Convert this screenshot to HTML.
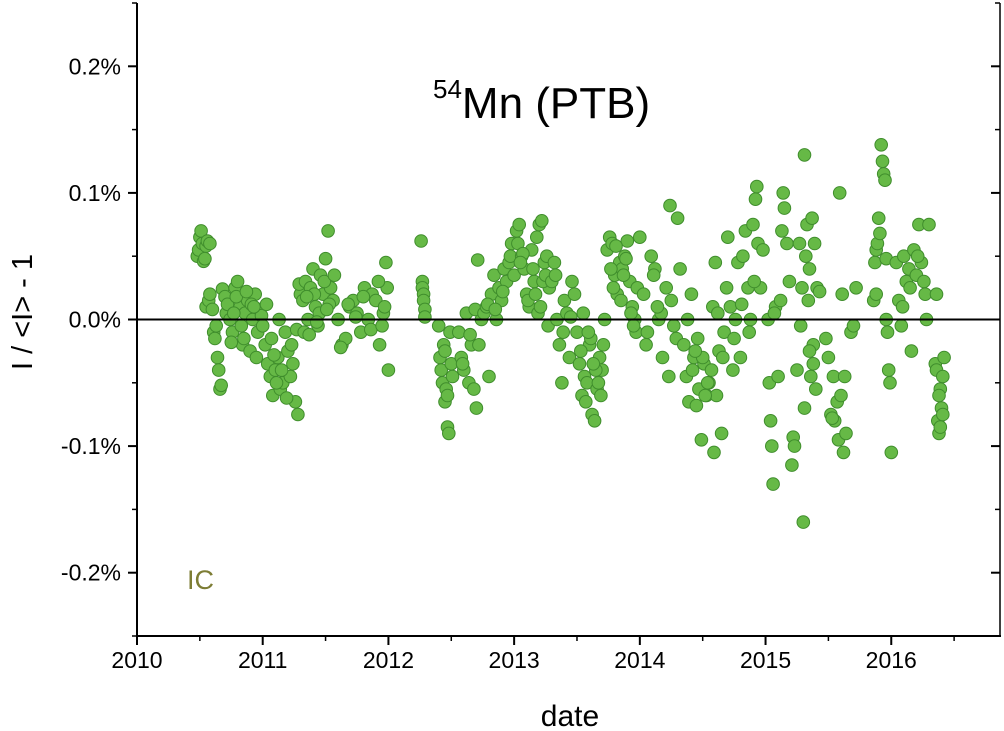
<!DOCTYPE html>
<html><head><meta charset="utf-8"><style>
html,body{margin:0;padding:0;background:#fff;}
svg{display:block;font-family:"Liberation Sans",sans-serif;}
</style></head><body>
<svg id="chart" width="1004" height="731" viewBox="0 0 1004 731" xmlns="http://www.w3.org/2000/svg">
<rect x="0" y="0" width="1004" height="731" fill="#fff"/>
<g id="points"></g>
<g id="axes"></g>
<text x="433" y="118" font-size="44"><tspan font-size="26" dy="-20">54</tspan><tspan dy="20">Mn (PTB)</tspan></text>
<text x="187" y="589" font-size="27" fill="#7d7d35">IC</text>
<text transform="translate(32,312) rotate(-90)" text-anchor="middle" font-size="29">I / &lt;I&gt; - 1</text>
<text x="570" y="726" text-anchor="middle" font-size="30">date</text>
</svg>
<script>
const xTicks = [2010, 2011, 2012, 2013, 2014, 2015, 2016];
const xTickLabels = ["2010","2011","2012","2013","2014","2015","2016"];
const yTicks = [0.2, 0.1, 0.0, -0.1, -0.2];
const yTickLabels = ["0.2%","0.1%","0.0%","-0.1%","-0.2%"];
const dates = [
2010.48,2010.49,2010.50,2010.51,2010.52,2010.53,2010.55,2010.56,2010.58,2010.54,
2010.55,2010.57,2010.58,2010.60,2010.61,2010.62,2010.63,2010.64,2010.65,2010.66,2010.67,2010.68,2010.70,2010.71,
2010.72,2010.74,2010.76,2010.78,2010.80,2010.82,2010.84,2010.86,2010.88,2010.90,2010.92,2010.94,2010.96,2010.98,2010.75,2010.79,2010.83,2010.87,2010.91,2010.95,2010.99,2010.77,2010.85,2010.93,
2011.00,2011.02,2011.04,2011.06,2011.08,2011.10,2011.12,2011.14,2011.16,2011.18,2011.20,2011.22,2011.24,2011.26,2011.28,2011.03,2011.07,2011.11,2011.15,2011.19,2011.23,2011.27,2011.30,2011.29,2011.13,2011.09,
2011.32,2011.34,2011.36,2011.38,2011.40,2011.42,2011.44,2011.46,2011.48,2011.50,2011.52,2011.54,2011.56,2011.33,2011.37,2011.41,2011.45,2011.49,2011.53,2011.35,2011.43,2011.51,2011.57,
2011.60,2011.63,2011.66,2011.69,2011.72,2011.75,2011.78,2011.81,2011.84,2011.87,2011.90,2011.93,2011.96,2011.98,2011.99,2012.00,2011.62,2011.68,2011.74,2011.80,2011.86,2011.92,2011.97,2011.95,
2012.26,2012.27,2012.27,2012.28,2012.28,2012.29,2012.29,
2012.40,2012.41,2012.42,2012.43,2012.44,2012.45,2012.46,2012.47,2012.48,2012.49,2012.50,2012.51,2012.45,2012.47,
2012.56,2012.58,2012.60,2012.62,2012.64,2012.66,2012.68,2012.70,2012.71,2012.72,2012.74,2012.59,2012.65,2012.69,
2012.76,2012.78,2012.80,2012.82,2012.84,2012.86,2012.88,2012.90,2012.92,2012.94,2012.96,2012.98,2012.79,2012.85,2012.91,2012.97,
2013.00,2013.02,2013.04,2013.06,2013.08,2013.10,2013.12,2013.14,2013.16,2013.18,2013.20,2013.22,2013.24,2013.26,2013.28,2013.03,2013.07,2013.11,2013.15,2013.19,2013.23,2013.27,2013.05,2013.17,2013.25,2013.21,
2013.30,2013.32,2013.34,2013.36,2013.38,2013.40,2013.42,2013.44,2013.46,2013.48,2013.33,2013.39,2013.45,
2013.50,2013.52,2013.54,2013.56,2013.58,2013.60,2013.62,2013.64,2013.66,2013.68,2013.70,2013.72,2013.53,2013.57,2013.61,2013.65,2013.69,2013.55,2013.63,2013.59,2013.67,2013.71,
2013.74,2013.76,2013.78,2013.80,2013.82,2013.84,2013.86,2013.88,2013.90,2013.92,2013.94,2013.96,2013.98,2013.77,2013.81,2013.85,2013.89,2013.93,2013.97,2013.79,2013.87,2013.95,
2014.00,2014.03,2014.06,2014.09,2014.12,2014.15,2014.18,2014.21,2014.24,2014.25,2014.27,2014.30,2014.32,2014.05,2014.11,2014.17,2014.23,2014.29,2014.14,
2014.35,2014.37,2014.39,2014.41,2014.43,2014.45,2014.47,2014.49,2014.51,2014.53,2014.55,2014.57,2014.59,2014.61,2014.63,2014.65,2014.67,2014.69,2014.38,2014.42,2014.46,2014.50,2014.54,2014.58,2014.62,2014.66,2014.44,2014.52,2014.60,
2014.70,2014.72,2014.74,2014.76,2014.78,2014.80,2014.82,2014.84,2014.86,2014.88,2014.90,2014.92,2014.93,2014.94,2014.96,2014.98,2014.75,2014.81,2014.87,2014.91,
2015.02,2015.03,2015.04,2015.05,2015.06,2015.08,2015.10,2015.12,2015.14,2015.15,2015.17,2015.19,2015.21,2015.22,2015.23,2015.07,2015.13,
2015.25,2015.27,2015.28,2015.29,2015.30,2015.31,2015.32,2015.33,2015.34,2015.35,2015.36,2015.37,2015.38,2015.39,2015.40,2015.41,2015.43,2015.31,2015.35,2015.38,
2015.48,2015.50,2015.52,2015.54,2015.55,2015.57,2015.58,2015.59,2015.60,2015.61,2015.62,2015.63,2015.64,2015.53,
2015.68,2015.70,2015.72,
2015.86,2015.87,2015.88,2015.89,2015.90,2015.91,2015.92,2015.93,2015.94,2015.95,2015.96,2015.97,2015.98,2015.99,2016.00,2015.88,2015.96,
2016.04,2016.06,2016.08,2016.10,2016.12,2016.14,2016.16,2016.18,2016.20,2016.22,2016.24,2016.26,2016.28,2016.30,2016.15,2016.21,2016.27,2016.09,
2016.35,2016.36,2016.37,2016.38,2016.39,2016.40,2016.41,2016.42,2016.36,2016.39,2016.41,2016.38
];
const vals = [
0.050,0.055,0.065,0.070,0.060,0.046,0.058,0.062,0.060,0.048,
0.010,0.015,0.020,0.008,-0.010,-0.015,-0.005,-0.030,-0.040,-0.055,-0.052,0.024,0.018,0.005,
0.012,0.000,-0.010,0.025,0.030,0.010,-0.020,0.005,0.015,-0.025,0.000,0.020,-0.010,0.008,-0.018,0.018,-0.005,0.022,0.012,-0.030,0.003,0.005,-0.015,0.010,
-0.005,-0.020,-0.035,-0.045,-0.060,-0.040,-0.030,-0.055,-0.050,-0.010,-0.025,-0.045,-0.035,-0.065,-0.075,0.012,-0.015,-0.050,-0.040,-0.062,-0.020,-0.008,0.020,0.028,0.000,-0.028,
0.015,0.030,0.000,0.025,0.040,0.010,-0.005,0.035,0.020,0.048,0.070,0.025,0.015,-0.010,-0.012,0.020,0.005,0.030,0.012,0.018,-0.002,0.008,0.035,
0.000,-0.020,-0.015,0.010,0.015,0.005,-0.010,0.025,0.000,0.020,0.015,-0.020,0.005,0.045,0.025,-0.040,-0.022,0.012,0.002,0.018,-0.008,0.030,0.010,-0.005,
0.062,0.030,0.025,0.020,0.015,0.008,0.002,
-0.005,-0.030,-0.040,-0.050,-0.020,-0.065,-0.055,-0.085,-0.090,-0.010,-0.035,-0.045,-0.025,-0.060,
-0.010,-0.030,-0.040,0.005,-0.050,-0.020,-0.055,-0.070,0.047,-0.020,0.000,-0.035,-0.012,0.008,
0.005,0.010,-0.045,0.020,0.035,0.000,0.025,0.015,0.040,0.030,0.045,0.060,0.012,0.008,0.022,0.050,
0.035,0.070,0.075,0.050,0.040,0.020,0.010,0.055,0.030,0.065,0.075,0.078,0.045,0.050,0.025,0.060,0.052,0.015,0.040,0.005,0.030,-0.005,0.045,0.020,0.035,0.010,
0.030,0.045,0.000,-0.020,-0.050,0.015,0.005,-0.030,0.030,0.020,0.035,-0.010,0.002,
-0.010,-0.035,-0.060,-0.045,-0.050,-0.020,-0.075,-0.080,-0.055,-0.030,-0.040,0.000,-0.025,-0.065,-0.015,-0.040,-0.060,0.005,-0.035,-0.010,-0.050,-0.020,
0.055,0.065,0.060,0.035,0.020,0.045,0.040,0.050,0.062,0.030,0.010,0.000,0.025,0.040,0.058,0.015,0.048,0.005,-0.010,0.025,0.035,-0.005,
0.065,0.020,-0.010,0.050,0.040,0.000,-0.030,0.025,0.090,0.015,-0.005,0.080,0.040,-0.020,0.035,0.005,-0.045,-0.015,0.010,
-0.020,-0.045,-0.065,0.020,-0.030,-0.068,-0.055,-0.095,-0.035,-0.060,-0.050,-0.040,-0.105,-0.060,-0.025,-0.090,-0.010,0.025,0.000,-0.040,-0.015,-0.030,-0.050,0.010,0.005,-0.030,-0.025,-0.060,0.045,
0.065,0.010,-0.040,0.000,0.045,-0.030,0.050,0.070,0.025,0.000,0.075,0.095,0.105,0.060,0.025,0.055,-0.015,0.012,-0.010,0.030,
0.000,-0.050,-0.080,-0.100,-0.130,0.010,-0.045,0.015,0.100,0.088,0.060,0.030,-0.115,-0.093,-0.100,0.005,0.070,
-0.040,0.060,-0.005,0.025,-0.160,0.130,0.050,0.075,0.015,0.040,-0.045,0.080,-0.020,0.060,-0.055,0.025,0.022,-0.070,-0.025,-0.035,
-0.015,-0.030,-0.075,-0.045,-0.080,-0.065,-0.095,0.100,-0.060,0.020,-0.105,-0.045,-0.090,-0.078,
-0.010,-0.005,0.025,
0.015,0.045,0.055,0.060,0.080,0.068,0.138,0.125,0.115,0.110,0.000,-0.010,-0.040,-0.050,-0.105,0.020,0.048,
0.045,0.015,-0.005,0.050,0.030,0.040,-0.025,0.055,0.035,0.075,0.045,0.030,0.000,0.075,0.025,0.050,0.020,0.010,
-0.035,-0.040,-0.080,-0.090,-0.055,-0.070,-0.075,-0.030,0.020,-0.085,-0.045,-0.060
];
const SVGNS = "http://www.w3.org/2000/svg";
const L = 137, R = 1000, T = 3, B = 636;
const X0 = 2010, X1 = 2016.865, Y0 = -0.25, Y1 = 0.25;
function xs(v){ return L + (v - X0) / (X1 - X0) * (R - L); }
function ys(v){ return B - (v - Y0) / (Y1 - Y0) * (B - T); }
const pg = document.getElementById('points');
for (let i = 0; i < dates.length; i++) {
  const c = document.createElementNS(SVGNS, 'circle');
  
  
  c.setAttribute('cx', xs(dates[i]).toFixed(1));
  c.setAttribute('cy', ys(vals[i]).toFixed(1));
  c.setAttribute('r', '6.3');
  c.setAttribute('fill', '#66b946');
  c.setAttribute('stroke', '#3f8d2c');
  c.setAttribute('stroke-width', '1');
  pg.appendChild(c);
}
const ag = document.getElementById('axes');
function line(x1,y1,x2,y2,w,name){
  const l = document.createElementNS(SVGNS,'line');
  
  
  l.setAttribute('x1',x1); l.setAttribute('y1',y1); l.setAttribute('x2',x2); l.setAttribute('y2',y2);
  l.setAttribute('stroke','#000'); l.setAttribute('stroke-width',w);
  ag.appendChild(l);
}
function text(x,y,s,anchor,name){
  const t = document.createElementNS(SVGNS,'text');
  
  
  t.setAttribute('x',x); t.setAttribute('y',y); t.setAttribute('text-anchor',anchor);
  t.setAttribute('font-size','23');
  t.textContent = s;
  ag.appendChild(t);
}
line(L, ys(0), R, ys(0), 2, 'zero-line');
line(L, T, L, B+1, 2, 'y-axis-line');
line(R, T, R, B+1, 1.5, 'right-axis-line');
line(L-1, B, R+1, B, 2, 'x-axis-line');
xTicks.forEach((v,i)=>{
  line(xs(v), B, xs(v), B+9, 2, 'x-tick');
  text(xs(v), B+32, xTickLabels[i], 'middle', 'x-tick-label');
  const m = v + 0.5;
  if (m < X1) line(xs(m), B, xs(m), B+5, 1.5, 'x-minor-tick');
});
yTicks.forEach((v,i)=>{
  line(L-9, ys(v), L, ys(v), 2, 'y-tick');
  line(R-9, ys(v), R, ys(v), 2, 'right-y-tick');
  text(L-16, ys(v)+8, yTickLabels[i], 'end', 'y-tick-label');
});
[0.25,0.15,0.05,-0.05,-0.15,-0.25].forEach(v=>{
  line(L-5, ys(v), L, ys(v), 1.5, 'y-minor-tick');
  line(R-5, ys(v), R, ys(v), 1.5, 'right-y-minor-tick');
});
</script>
</body></html>
